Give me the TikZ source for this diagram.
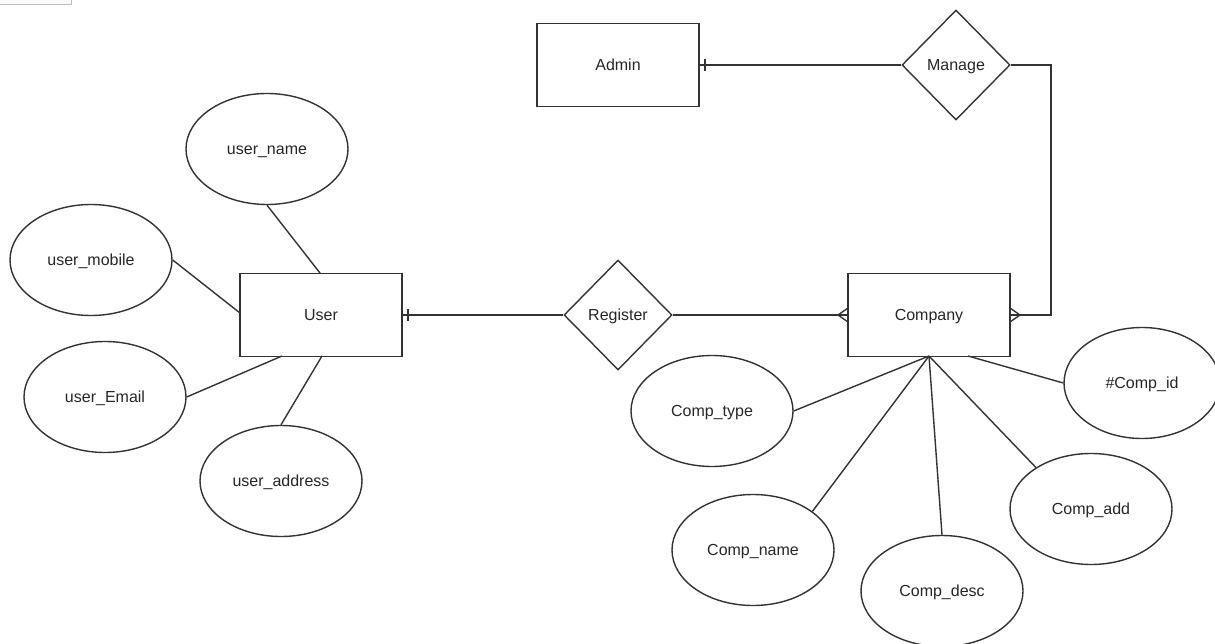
\documentclass[tikz,border=0pt]{standalone}
\usepackage{fontspec}
\setmainfont{Liberation Sans}
\usetikzlibrary{shapes.geometric}
\begin{document}
\begin{tikzpicture}[x=1pt,y=-1pt,
  every node/.style={font=\fontsize{16}{19}\selectfont, text=black!85, text height=11.5pt, text depth=0pt},
  ent/.style={draw=black!80, line width=1.4pt, minimum width=162pt, minimum height=83pt, inner sep=0pt},
  rel/.style={draw=black!80, line width=1.4pt, diamond, minimum width=108pt, minimum height=110pt, inner sep=0pt},
  attr/.style={draw=black!80, line width=1.4pt, ellipse, minimum width=162pt, minimum height=111pt, inner sep=0pt},
  conn/.style={draw=black!80, line width=1.4pt}]
\useasboundingbox (0,0) rectangle (1215,644);
\draw[black!25, line width=1pt, fill=black!2] (-2,-2) rectangle (71,5);
% entities
\node[ent] (admin) at (618,65) {Admin};
\node[ent] (user) at (321,315) {User};
\node[ent] (company) at (929,315) {Company};
% relationships
\node[rel] (manage) at (956,65) {Manage};
\node[rel] (register) at (618,315) {Register};
% attributes
\node[attr] (uname) at (267,149) {user\_name};
\node[attr] (umobile) at (91,260) {user\_mobile};
\node[attr] (uemail) at (105,397) {user\_Email};
\node[attr] (uaddr) at (281,481) {user\_address};
\node[attr] (ctype) at (712,411) {Comp\_type};
\node[attr, minimum width=156pt] (cid) at (1142,383) {\#Comp\_id};
\node[attr] (cadd) at (1091,509) {Comp\_add};
\node[attr] (cdesc) at (942,591) {Comp\_desc};
\node[attr] (cname) at (753,550) {Comp\_name};
% coordinates
\coordinate (cb) at (929,356);
\coordinate (cb2) at (968,356);
\coordinate (mcA) at (1051,65);
\coordinate (mcB) at (1051,315);
% relationship lines
\draw[conn] (admin.east) -- (manage.west);
\draw[conn] (705,59) -- (705,71);
\draw[conn] (user.east) -- (register.west);
\draw[conn] (408,309) -- (408,321);
\draw[conn] (register.east) -- (company.west);
\draw[conn] (838,315) -- (848,308) (838,315) -- (848,322);
\draw[conn] (manage.east) -- (mcA) -- (mcB) -- (company.east);
\draw[conn] (1020,315) -- (1010,308) (1020,315) -- (1010,322);
% attribute lines
\draw[conn] (320,273) -- (uname.south);
\draw[conn] (240,313) -- (umobile.east);
\draw[conn] (282,356) -- (uemail.east);
\draw[conn] (322,356) -- (uaddr.north);
\draw[conn] (cb) -- (ctype.east);
\draw[conn] (cb) -- (cname.33);
\draw[conn] (cb) -- (cdesc.north);
\draw[conn] (cb) -- (cadd.143);
\draw[conn] (cb2) -- (cid.west);
\end{tikzpicture}
\end{document}
